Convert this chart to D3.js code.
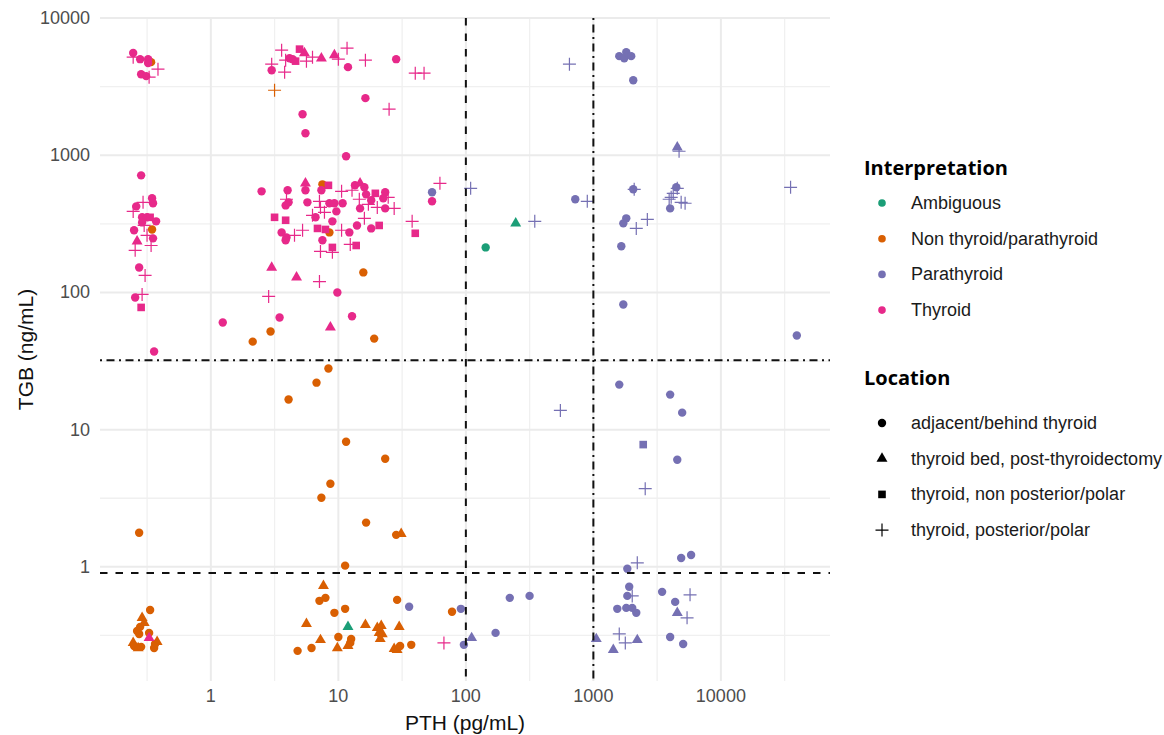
<!DOCTYPE html>
<html><head><meta charset="utf-8">
<script src="https://cdn.jsdelivr.net/npm/d3@7"></script>
<style>body{margin:0;background:#fff}svg{display:block}</style>
</head><body><svg id="c" width="1164" height="735"></svg>
<script>
const interpretations = ["Ambiguous","Non thyroid/parathyroid","Parathyroid","Thyroid"];
const locations = ["adjacent/behind thyroid","thyroid bed, post-thyroidectomy","thyroid, non posterior/polar","thyroid, posterior/polar"];
const xTicks = [1,10,100,1000,10000];
const yTicks = [1,10,100,1000,10000];
const pthCutoffs = [100,1000];
const tgbCutoffs = [0.9,32];

// rows: [PTH pg/mL, TGB ng/mL, location index]
const ambiguous = [[11.9,0.365,1],[246,319,1],[143,213,0]];
const nonThyroid = [
[0.340,4774,0],[3.16,2980,3],[0.346,288,0],[7.50,614,0],[8.51,274,0],[15.7,140,0],[2.94,51.9,0],[2.13,43.8,0],[19.1,46.1,0],[0.274,1.77,0],
[0.334,0.485,0],[0.289,0.425,1],[0.300,0.390,1],[0.279,0.365,0],[0.274,0.324,0],[0.328,0.330,0],[0.379,0.284,1],[0.246,0.279,1],[0.250,0.265,0],[0.269,0.256,1],[0.284,0.261,0],[0.359,0.256,0],[0.365,0.274,0],[0.264,0.341,0],
[8.36,27.9,0],[6.74,22.0,0],[4.07,16.6,0],[11.5,8.17,0],[23.3,6.14,0],[8.66,4.03,0],[7.36,3.19,0],[16.5,2.10,0],[28.4,1.71,0],[31.1,1.74,1],[11.3,1.02,0],
[7.64,0.727,1],[7.11,0.565,0],[7.92,0.594,0],[9.31,0.462,0],[11.3,0.494,0],[28.9,0.574,0],[77.9,0.470,0],[5.62,0.384,1],[16.3,0.377,1],[20.2,0.359,1],[21.7,0.371,1],[20.9,0.330,1],[22.1,0.324,1],[21.3,0.298,1],[30.0,0.365,1],[7.24,0.293,1],[10.0,0.308,0],[12.6,0.298,0],[12.4,0.279,0],[9.82,0.256,1],[11.9,0.265,1],[4.79,0.244,0],[6.16,0.256,0],[27.4,0.252,1],[28.9,0.248,1],[30.5,0.265,0],[37.3,0.270,0]
];
const parathyroid = [
[54.3,537,0],[35.9,0.511,0],[91.4,0.494,0],[96.5,0.270,0],[111,0.303,1],[171,0.330,0],[221,0.594,0],[316,0.614,0],[1054,0.298,1],[1433,0.248,1],[1596,0.324,3],[1780,0.279,3],[2210,0.293,1],[4000,0.308,0],[5060,0.274,0],[1540,0.494,0],[1811,0.502,0],[2017,0.502,0],[2170,0.462,0],[4550,0.462,1],[5430,0.425,3],[1846,0.614,0],[2017,0.614,3],[3460,0.657,0],[4380,0.555,0],[5730,0.625,3],[1910,0.715,0],[1846,0.967,0],[2210,1.07,3],[4880,1.16,0],[5840,1.22,0],[2550,3.71,3],[4550,6.04,0],[2460,7.78,2],[4970,13.3,0],[4000,18.0,0],[1596,21.3,0],[551,13.8,3],[39400,48.5,0],[1717,81.7,0],[1656,217,0],[1811,347,0],[1717,319,0],[2650,341,3],[2170,293,3],[2054,565,0],[2090,565,3],[4470,584,0],[4550,574,3],[4230,528,3],[4075,494,3],[3930,478,3],[4880,454,3],[5240,447,3],[4000,410,0],[35200,584,3],[4550,1143,1],[4700,1070,3],[2054,3527,0],[1596,5280,0],[1746,5100,0],[1811,5650,0],[1980,5280,0],[649,4617,3],[109,574,3],[721,478,0],[896,462,3],[347,330,3]
];
const thyroid = [
[0.246,5560,0],[0.246,5190,3],[0.279,5020,0],[0.322,5020,0],[0.322,4700,0],[0.385,4245,3],[0.284,3900,0],[0.311,3774,0],[0.328,3711,3],
[3.59,5840,3],[3.0,4617,3],[3.0,4172,0],[3.79,4034,3],[4.96,5940,2],[5.42,5560,1],[4.14,5100,0],[4.62,4855,2],[4.38,5020,0],[5.62,4855,3],[6.27,5190,3],[7.36,5100,1],[9.31,5370,1],[10.0,5020,3],[11.7,6040,3],[11.9,4390,0],[16.3,4935,3],[28.4,5020,0],[40.1,3969,3],[47.0,3969,3],[16.3,2609,0],[25.0,2168,3],[5.24,1992,0],[5.52,1448,0],[11.5,984,0],[3.86,4935,3],
[0.284,714,0],[0.294,454,3],[0.260,424,0],[0.246,390,3],[0.346,486,0],[0.352,447,0],[0.289,353,0],[0.316,353,0],[0.334,353,2],[0.372,330,0],[0.250,284,0],[0.300,308,3],[0.289,324,0],[0.264,236,1],[0.352,248,0],[0.316,261,3],[0.340,220,3],[0.255,203,3],[0.274,152,0],[0.305,133,3],[0.289,96.7,3],[0.255,92.0,0],[0.284,77.8,2],[0.359,37.1,0],
[2.50,546,0],[4.0,556,0],[5.52,625,1],[5.52,556,0],[8.36,604,2],[7.36,556,0],[10.6,546,3],[12.8,556,3],[13.5,604,0],[14.8,625,1],[16.0,584,0],[16.5,519,0],[19.5,528,2],[23.3,537,0],[22.5,486,0],[24.6,494,3],[62.6,625,3],[54.3,462,0],[3.92,478,3],[4.07,454,0],[3.86,431,0],[5.72,454,0],[7.11,462,3],[7.24,417,3],[7.78,384,3],[8.51,447,0],[9.31,447,0],[10.8,447,0],[9.65,390,0],[14.6,478,3],[18.1,470,0],[17.2,439,3],[14.8,410,0],[20.2,417,3],[23.3,410,0],[27.4,410,3],[16.0,347,3],[14.0,308,0],[18.1,293,0],[20.9,308,2],[37.9,330,3],[8.98,330,0],[3.16,353,2],[3.86,336,2],[6.62,353,0],[6.27,365,3],[6.86,293,2],[7.92,288,2],[10.6,284,3],[12.2,274,0],[3.59,274,0],[3.92,252,0],[3.86,240,0],[4.53,261,3],[5.24,284,3],[7.50,240,0],[7.24,199,3],[8.98,213,2],[8.98,196,3],[12.4,224,3],[13.8,220,2],[40.1,270,2],
[3.0,152,1],[4.70,129,1],[7.11,120,3],[2.84,93.5,3],[9.82,100,0],[3.46,65.7,0],[12.8,67,0],[1.24,60.4,0],[8.66,55.6,1],[0.328,0.303,1],[67.3,0.279,3]
];
const colors = ["#1B9E77","#D95F02","#7570B3","#E7298A"];

const groups = [ambiguous, nonThyroid, parathyroid, thyroid];
const all = groups.flatMap((g,i)=>g.map(d=>({pth:d[0],tgb:d[1],loc:d[2],grp:i})));

const svg = d3.select("#c");
const L=100,R=830,T=18,B=681;
function expandLog(ext){const a=Math.log10(ext[0]),b=Math.log10(ext[1]),p=(b-a)*0.05;return [Math.pow(10,a-p),Math.pow(10,b+p)];}
const x = d3.scaleLog().domain(expandLog(d3.extent(all,d=>d.pth))).range([L,R]);
const y = d3.scaleLog().domain(expandLog(d3.extent(all,d=>d.tgb))).range([B,T]);

// grid
const g = svg.append("g");
function minorOf(scale){const dm=scale.domain();const out=[];for(let k=-2;k<6;k++){const v=Math.pow(10,k+0.5);if(v>dm[0]&&v<dm[1])out.push(v);}return out;}
g.selectAll(".vxm").data(minorOf(x)).join("line").attr("x1",d=>x(d)).attr("x2",d=>x(d)).attr("y1",T).attr("y2",B).attr("stroke","#f0f0f0").attr("stroke-width",1.3);
g.selectAll(".hym").data(minorOf(y)).join("line").attr("y1",d=>y(d)).attr("y2",d=>y(d)).attr("x1",L).attr("x2",R).attr("stroke","#f0f0f0").attr("stroke-width",1.3);
g.selectAll(".vx").data(xTicks).join("line").attr("x1",d=>x(d)).attr("x2",d=>x(d)).attr("y1",T).attr("y2",B).attr("stroke","#ebebeb").attr("stroke-width",2);
g.selectAll(".hy").data(yTicks).join("line").attr("y1",d=>y(d)).attr("y2",d=>y(d)).attr("x1",L).attr("x2",R).attr("stroke","#ebebeb").attr("stroke-width",2);

// tick labels
const font="'Liberation Sans', Arial, sans-serif";
svg.append("g").selectAll("text").data(xTicks).join("text").attr("x",d=>x(d)).attr("y",696).attr("text-anchor","middle").attr("dominant-baseline","central").attr("font-family",font).attr("font-size",18).attr("fill","#4d4d4d").text(d=>d);
svg.append("g").selectAll("text").data(yTicks).join("text").attr("x",90).attr("y",d=>y(d)).attr("text-anchor","end").attr("dominant-baseline","central").attr("font-family",font).attr("font-size",18).attr("fill","#4d4d4d").text(d=>d);

// axis titles
svg.append("text").attr("x",(L+R)/2).attr("y",722).attr("text-anchor","middle").attr("dominant-baseline","central").attr("font-family",font).attr("font-size",21).attr("fill","#111").text("PTH (pg/mL)");
svg.append("text").attr("transform",`translate(25,${(T+B)/2}) rotate(-90)`).attr("text-anchor","middle").attr("dominant-baseline","central").attr("font-family",font).attr("font-size",21).attr("fill","#111").text("TGB (ng/mL)");

// shapes
function drawShape(sel, loc, color){
  if(loc===0) sel.append("circle").attr("r",4.2).attr("fill",color);
  else if(loc===1) sel.append("path").attr("d",d3.symbol(d3.symbolTriangle,52)()).attr("fill",color);
  else if(loc===2) sel.append("rect").attr("x",-3.8).attr("y",-3.8).attr("width",7.6).attr("height",7.6).attr("fill",color);
  else sel.append("path").attr("d","M-6.5,0H6.5M0,-6.5V6.5").attr("stroke",color).attr("stroke-width",1.2).attr("fill","none");
}
const pts = svg.append("g");
const order=[1,2,3,0];
order.forEach(gi=>{
  groups[gi].forEach(d=>{
    const s=pts.append("g").attr("transform",`translate(${x(d[0])},${y(d[1])})`);
    drawShape(s,d[2],colors[gi]);
  });
});

// reference lines
const ref=svg.append("g").attr("stroke","#111").attr("stroke-width",2).attr("fill","none");
ref.append("line").attr("x1",x(pthCutoffs[0])).attr("x2",x(pthCutoffs[0])).attr("y1",T).attr("y2",B).attr("stroke-dasharray","7.5,8");
ref.append("line").attr("x1",x(pthCutoffs[1])).attr("x2",x(pthCutoffs[1])).attr("y1",T).attr("y2",B).attr("stroke-dasharray","2,4.5,8,4.5");
ref.append("line").attr("y1",y(tgbCutoffs[0])).attr("y2",y(tgbCutoffs[0])).attr("x1",L).attr("x2",R).attr("stroke-dasharray","7.5,8");
ref.append("line").attr("y1",y(tgbCutoffs[1])).attr("y2",y(tgbCutoffs[1])).attr("x1",L).attr("x2",R).attr("stroke-dasharray","2,4.5,8,4.5");

// legends
const tfont="'Open Sans', sans-serif";
const lg=svg.append("g");
lg.append("text").attr("x",864).attr("y",167).attr("dominant-baseline","central").attr("font-family",tfont).attr("font-weight",700).attr("font-size",20).attr("fill","#000").text("Interpretation");
interpretations.forEach((name,i)=>{
  const yy=203+i*35.7;
  lg.append("circle").attr("cx",882).attr("cy",yy).attr("r",3.8).attr("fill",colors[i]);
  lg.append("text").attr("x",911).attr("y",yy).attr("dominant-baseline","central").attr("font-family",font).attr("font-size",18).attr("fill","#1a1a1a").text(name);
});
lg.append("text").attr("x",864).attr("y",377).attr("dominant-baseline","central").attr("font-family",tfont).attr("font-weight",700).attr("font-size",20).attr("fill","#000").text("Location");
locations.forEach((name,i)=>{
  const yy=423+i*35.7;
  const s=lg.append("g").attr("transform",`translate(882,${yy})`);
  drawShape(s,i,"#000");
  lg.append("text").attr("x",911).attr("y",yy).attr("dominant-baseline","central").attr("font-family",font).attr("font-size",18).attr("fill","#1a1a1a").text(name);
});
</script></body></html>
